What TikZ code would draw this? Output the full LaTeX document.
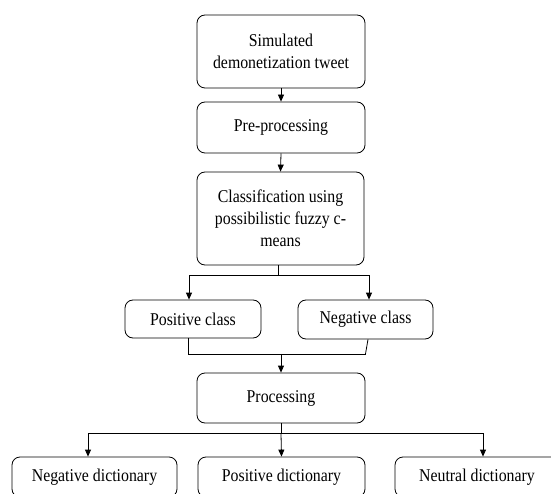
\documentclass[tikz,border=0pt]{standalone}
\usepackage{fontspec}
\setmainfont{Liberation Serif}[FakeStretch=0.88]
\usetikzlibrary{arrows.meta}
\begin{document}
\begin{tikzpicture}[x=1pt,y=1pt,
  box/.style={draw, line width=0.8pt, rounded corners=8pt, inner sep=0pt, align=center,
    font=\fontsize{18}{22}\selectfont},
  link/.style={line width=0.8pt},
  arr/.style={line width=0.8pt, -{Triangle[length=7pt,width=6pt]}}]
\useasboundingbox (0,0) rectangle (551,-494);
\clip (0,0) rectangle (551,-494);
\fill[white] (0,0) rectangle (551,-494);
% nodes
\node[box, minimum width=168pt, minimum height=73pt] (b1) at (281,-51.5) {Simulated\\demonetization tweet};
\node[box, minimum width=168pt, minimum height=51pt] (b2) at (281,-127.5) {Pre-processing};
\node[box, minimum width=167pt, minimum height=93pt] (b3) at (280.5,-218.5) {Classification using\\possibilistic fuzzy c-\\means};
\node[box, minimum width=136pt, minimum height=38pt] (pc) at (193,-319) {Positive class};
\node[box, minimum width=135pt, minimum height=39pt] (nc) at (365.5,-319.5) {Negative class};
\node[box, minimum width=168pt, minimum height=50pt] (pr) at (281,-398) {Processing};
\node[box, minimum width=165pt, minimum height=40pt] (nd) at (94.5,-477) {Negative dictionary};
\node[box, minimum width=167pt, minimum height=40pt] (pd) at (281.5,-477) {Positive dictionary};
\node[box, minimum width=164pt, minimum height=40pt] (ud) at (477,-477) {Neutral dictionary};
% connectors
\draw[arr] (b1.south) -- (b2.north);
\draw[arr] (b2.south) -- (b3.north);
\draw[link] ([xshift=-2pt]b3.south) -- ++(0,-10) coordinate (j1);
\draw[arr] (j1) -| ([xshift=-4pt]pc.north);
\draw[arr] (j1) -| ([xshift=3.5pt]nc.north);
\draw[link] ([xshift=-5pt]pc.south) |- ([yshift=-14.5pt]nc.south) coordinate (j2);
\draw[link] ([xshift=2.5pt]nc.south) -- (j2);
\draw[arr] (pr.north |- j2) -- (pr.north);
\draw[link] (pr.south) -- ++(0,-10) coordinate (j3);
\draw[arr] (j3) -| ([xshift=-6.5pt]nd.north);
\draw[arr] (j3) -- (pd.north |- nd.north);
\draw[arr] (j3) -| ([xshift=6pt]ud.north);
\end{tikzpicture}
\end{document}
